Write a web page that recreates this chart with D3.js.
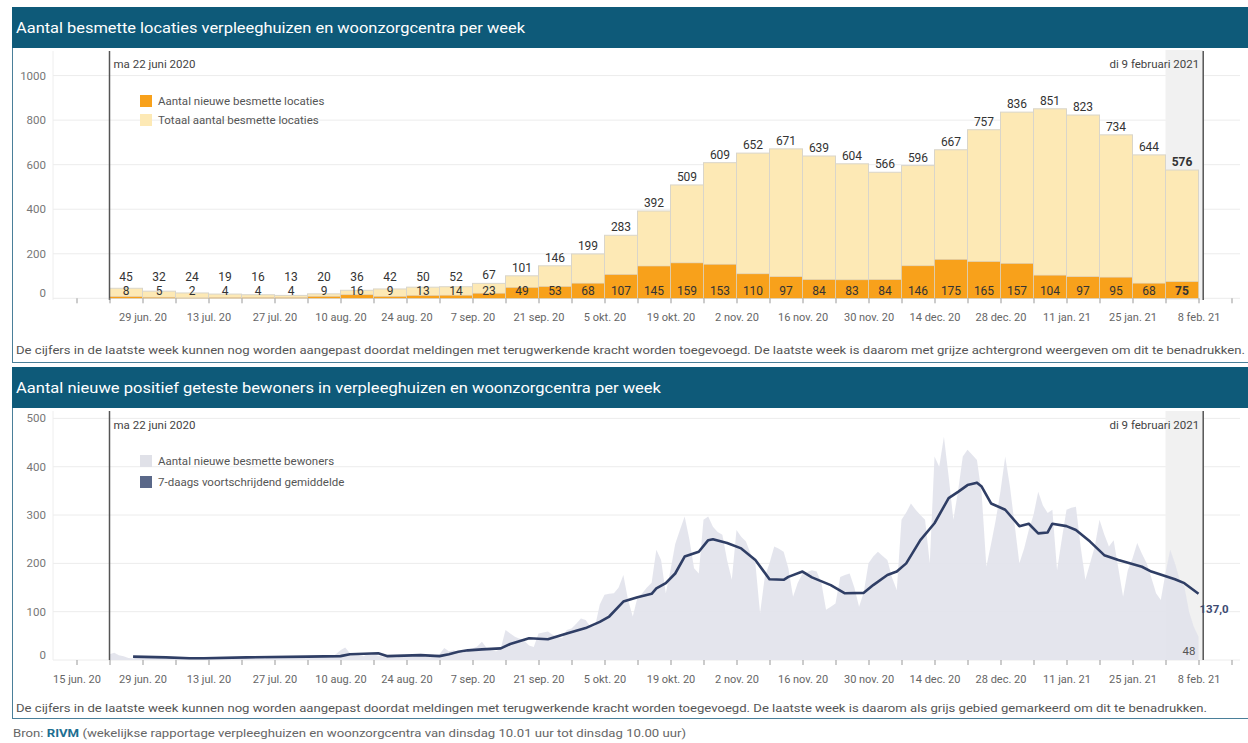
<!DOCTYPE html>
<html><head><meta charset="utf-8">
<script src="https://cdn.jsdelivr.net/npm/d3@7"></script>
<style>
body{margin:0;background:#fff}
svg{display:block}
text{font-family:Roboto,"Noto Sans",sans-serif}
</style>
</head><body>
<svg id="c" width="1248" height="743"></svg>
<script>
// ---------- data ----------
const weeks = ["2020-06-22","2020-06-29","2020-07-06","2020-07-13","2020-07-20","2020-07-27","2020-08-03","2020-08-10","2020-08-17","2020-08-24","2020-08-31","2020-09-07","2020-09-14","2020-09-21","2020-09-28","2020-10-05","2020-10-12","2020-10-19","2020-10-26","2020-11-02","2020-11-09","2020-11-16","2020-11-23","2020-11-30","2020-12-07","2020-12-14","2020-12-21","2020-12-28","2021-01-04","2021-01-11","2021-01-18","2021-01-25","2021-02-01"];
const totalLocations = [45,32,24,19,16,13,20,36,42,50,52,67,101,146,199,283,392,509,609,652,671,639,604,566,596,667,757,836,851,823,734,644,576];
const newLocations = [8,5,2,4,4,4,9,16,9,13,14,23,49,53,68,107,145,159,153,110,97,84,83,84,146,175,165,157,104,97,95,68,75];
const topYTicks = [0,200,400,600,800,1000];
const bottomYTicks = [0,100,200,300,400,500];
const axisTickDates = ["2020-06-15","2020-06-29","2020-07-13","2020-07-27","2020-08-10","2020-08-24","2020-09-07","2020-09-21","2020-10-05","2020-10-19","2020-11-02","2020-11-16","2020-11-30","2020-12-14","2020-12-28","2021-01-11","2021-01-25","2021-02-08"];
const axisTickLabels = ["15 jun. 20","29 jun. 20","13 jul. 20","27 jul. 20","10 aug. 20","24 aug. 20","7 sep. 20","21 sep. 20","5 okt. 20","19 okt. 20","2 nov. 20","16 nov. 20","30 nov. 20","14 dec. 20","28 dec. 20","11 jan. 21","25 jan. 21","8 feb. 21"];
const startDate = "2020-06-22";
const reportDate = "2021-02-09";
const dailyResidents = [
12,15,10,8,4,3,6, 5,7,4,6,3,2,5, 3,4,2,5,3,2,4, 4,6,3,5,4,2,6,
5,7,4,6,5,3,7, 6,8,5,7,6,4,8, 7,9,6,10,8,5,12, 20,26,14,12,10,8,15,
12,9,7,8,6,5,9, 8,10,7,9,8,6,10, 12,25,18,20,16,14,22, 24,28,38,25,20,18,24,
62,55,48,44,40,30,27, 55,57,59,52,48,45,62, 65,75,86,83,69,70,115, 135,137,138,150,176,124,90,
130,138,150,160,228,207,138, 186,240,269,297,250,190,179, 290,297,276,265,259,207,166, 269,255,245,220,200,97,172,
200,235,230,224,190,131,160, 179,182,186,183,160,104,110, 117,172,176,179,150,110,140, 200,214,224,215,207,170,145,
290,305,324,311,300,290,200, 421,400,462,380,290,350,421, 435,425,414,345,193,240,290, 350,421,359,280,200,230,269,
300,348,320,304,311,186,250, 311,315,317,235,166,200,235, 290,260,235,248,190,131,186, 210,242,220,200,170,138,124,
180,228,200,166,152,100,69,48];
const avgDayOffset = [5,12,17,20,29,42,49,51,57,59,66,70,72,74,76,79,83,85,89,93,97,101,104,106,109,112,115,116,118,120,122,125,127,128,131,134,137,140,143,144,147,149,153,156,160,162,165,167,169,172,175,178,180,182,184,185,187,190,193,195,197,199,200,203,205,208,211,214,219,221,226,228,231];
const avgResidents = [7,5.5,3.5,3.5,5.5,7,8,12,14,8,10,8,12,17,20,22,24,33,45,43,55,66,79,90,121,130,137,148,159,179,214,224,248,250,242,231,207,167,166,172,183,171,155,138,139,155,176,183,200,248,283,335,348,362,367,359,324,311,277,282,262,264,282,277,269,245,217,207,193,183,167,159,137];

// ---------- setup ----------
const parse = d3.timeParse("%Y-%m-%d");
const svg = d3.select("#c");
const C = {head:"#0e5a79", border:"#4a7f99", orange:"#f8a11b", yellow:"#fde9b5", barStroke:"#d9d5ca",
  grid:"#ececec", shade:"#f1f1f1", area:"#e2e3eb", line:"#2f3e65", text:"#555", light:"#777"};

const x = d3.scaleTime().domain([parse(startDate), parse("2021-02-08")]).range([109.5, 1198.5]);
const yTop = d3.scaleLinear().domain([0,1000]).range([298.3, 75.6]);
const yBot = d3.scaleLinear().domain([0,500]).range([660, 418.4]);
const mondays = d3.timeMonday.range(parse("2020-06-15"), parse("2021-02-16"));
const lastWeek = parse(weeks[weeks.length-1]);
const rep = parse(reportDate);
const st = parse(startDate);

// ---------- panels ----------
function panel(y0, y1, hy1, title, tlen){
  svg.append("rect").attr("x",12.5).attr("y",y0+0.5).attr("width",1240).attr("height",y1-y0)
    .attr("fill","none").attr("stroke",C.border).attr("stroke-width",1);
  svg.append("rect").attr("x",12).attr("y",y0).attr("width",1240).attr("height",hy1-y0).attr("fill",C.head);
  svg.append("text").attr("x",16).attr("y",(y0+hy1)/2).attr("dy","0.35em").attr("fill","#fff")
    .attr("font-size",15).attr("textLength",tlen).attr("lengthAdjust","spacingAndGlyphs").text(title);
}
panel(7, 362, 48, "Aantal besmette locaties verpleeghuizen en woonzorgcentra per week", 509);
panel(367, 718, 408, "Aantal nieuwe positief geteste bewoners in verpleeghuizen en woonzorgcentra per week", 645);

function grid(g, scale, ticks){
  ticks.forEach(t=>{
    g.append("line").attr("x1",53).attr("x2",1240).attr("y1",scale(t)).attr("y2",scale(t))
      .attr("stroke",C.grid).attr("stroke-width",1);
    g.append("text").attr("x",46).attr("y",scale(t) - (t===0?5:0)).attr("dy","0.35em").attr("text-anchor","end")
      .attr("font-size",11.5).attr("fill",C.light).text(t);
  });
}
function xAxis(yPos, skipFirst){
  const lab = new Map(axisTickDates.map((d,i)=>[+parse(d), axisTickLabels[i]]));
  if(skipFirst) lab.delete(+parse(axisTickDates[0]));
  const ax = d3.axisBottom(x).tickValues(mondays).tickSize(5).tickPadding(10)
    .tickFormat(d=>lab.get(+d)||"");
  const g = svg.append("g").attr("transform",`translate(0,${yPos})`).call(ax);
  g.select(".domain").remove();
  g.selectAll(".tick line").attr("stroke","#999");
  g.selectAll(".tick text").attr("fill","#666").attr("font-size",11).attr("font-family","Roboto,'Noto Sans',sans-serif");
}
function markers(yA, yB){
  svg.append("rect").attr("x",x(lastWeek)).attr("y",yA).attr("width",x(rep)-x(lastWeek)).attr("height",yB-yA).attr("fill",C.shade);
}
function vlines(yA, yB, yText){
  [st, rep].forEach(d=>svg.append("line").attr("x1",x(d)).attr("x2",x(d)).attr("y1",yA).attr("y2",yB)
    .attr("stroke","#555").attr("stroke-width",1.5));
  svg.append("line").attr("x1",53).attr("x2",53).attr("y1",yA).attr("y2",yB).attr("stroke","#eee");
  svg.append("text").attr("x",x(st)+4).attr("y",yText).attr("dy","0.35em").attr("font-size",11.5).attr("fill","#444").text("ma 22 juni 2020");
  svg.append("text").attr("x",x(rep)-4).attr("y",yText).attr("dy","0.35em").attr("text-anchor","end").attr("font-size",11.5).attr("fill","#444").text("di 9 februari 2021");
}

// ---------- top chart ----------
const gT = svg.append("g");
grid(gT, yTop, topYTicks);
markers(50, 300);
const bw = d => x(d3.timeDay.offset(parse(d),7)) - x(parse(d));
const bars = svg.append("g");
weeks.forEach((w,i)=>{
  const x0 = x(parse(w)), wd = bw(w);
  bars.append("rect").attr("x",x0).attr("width",wd).attr("y",yTop(totalLocations[i])).attr("height",yTop(0)-yTop(totalLocations[i]))
    .attr("fill",C.yellow).attr("stroke",C.barStroke).attr("stroke-width",1);
  bars.append("rect").attr("x",x0).attr("width",wd).attr("y",yTop(newLocations[i])).attr("height",yTop(0)-yTop(newLocations[i]))
    .attr("fill",C.orange).attr("stroke",C.barStroke).attr("stroke-width",0.6);
});
weeks.forEach((w,i)=>{
  const cx = x(parse(w)) + bw(w)/2, last = i===weeks.length-1;
  bars.append("text").attr("x",cx).attr("y",Math.min(yTop(totalLocations[i])-4, yTop(0)-17)).attr("text-anchor","middle")
    .attr("font-size",12).attr("fill","#333").attr("font-weight",last?"bold":null).text(totalLocations[i]);
  bars.append("text").attr("x",cx).attr("y",yTop(0)-8).attr("dy","0.35em").attr("text-anchor","middle")
    .attr("font-size",12).attr("fill","#333").attr("font-weight",last?"bold":null).text(newLocations[i]);
});
vlines(51, 300, 64);
xAxis(yTop(0), true);
// legend
[[C.orange,"Aantal nieuwe besmette locaties",95],[C.yellow,"Totaal aantal besmette locaties",114]].forEach(([c,t,yy])=>{
  svg.append("rect").attr("x",140).attr("y",yy).attr("width",12).attr("height",12).attr("fill",c);
  svg.append("text").attr("x",158).attr("y",yy+6).attr("dy","0.35em").attr("font-size",11.5).attr("fill",C.text).text(t);
});
svg.append("text").attr("x",16).attr("y",350).attr("dy","0.35em").attr("font-size",11).attr("fill",C.text)
  .attr("textLength",1229).attr("lengthAdjust","spacingAndGlyphs")
  .text("De cijfers in de laatste week kunnen nog worden aangepast doordat meldingen met terugwerkende kracht worden toegevoegd. De laatste week is daarom met grijze achtergrond weergeven om dit te benadrukken.");

// ---------- bottom chart ----------
const gB = svg.append("g");
grid(gB, yBot, bottomYTicks);
markers(411, 660);
const daily = dailyResidents.map((v,i)=>({d:d3.timeDay.offset(st,i), v}));
svg.append("path").datum(daily).attr("fill",C.area).attr("opacity",0.92)
  .attr("d", d3.area().x(p=>x(p.d)).y0(yBot(0)).y1(p=>yBot(p.v)));
const avg = avgDayOffset.map((o,i)=>({d:d3.timeDay.offset(st,o), v:avgResidents[i]}));
svg.append("path").datum(avg).attr("fill","none").attr("stroke",C.line).attr("stroke-width",2.6)
  .attr("stroke-linejoin","round").attr("d", d3.line().x(p=>x(p.d)).y(p=>yBot(p.v)));
vlines(411, 660, 425);
xAxis(yBot(0), false);
const lastAvg = avg[avg.length-1], lastDaily = daily[daily.length-1];
svg.append("text").attr("x",x(lastAvg.d)+1).attr("y",yBot(lastAvg.v)+15).attr("dy","0.35em").attr("font-size",11.5)
  .attr("font-weight","bold").attr("fill","#3d4b72").text(d3.format(".1f")(lastAvg.v).replace(".",","));
svg.append("text").attr("x",x(lastDaily.d)-3).attr("y",yBot(0)-9).attr("dy","0.35em").attr("text-anchor","end")
  .attr("font-size",11.5).attr("fill",C.text).text(lastDaily.v);
[["#e0e1e8","Aantal nieuwe besmette bewoners",455],["#5a6889","7-daags voortschrijdend gemiddelde",476]].forEach(([c,t,yy])=>{
  svg.append("rect").attr("x",140).attr("y",yy).attr("width",12).attr("height",12).attr("fill",c);
  svg.append("text").attr("x",158).attr("y",yy+6).attr("dy","0.35em").attr("font-size",11.5).attr("fill",C.text).text(t);
});
svg.append("text").attr("x",16).attr("y",708).attr("dy","0.35em").attr("font-size",11).attr("fill",C.text)
  .attr("textLength",1191).attr("lengthAdjust","spacingAndGlyphs")
  .text("De cijfers in de laatste week kunnen nog worden aangepast doordat meldingen met terugwerkende kracht worden toegevoegd. De laatste week is daarom als grijs gebied gemarkeerd om dit te benadrukken.");

// source
const src = svg.append("text").attr("x",13).attr("y",733).attr("dy","0.35em").attr("font-size",11).attr("fill","#666")
  .attr("textLength",673).attr("lengthAdjust","spacingAndGlyphs");
src.append("tspan").text("Bron: ");
src.append("tspan").attr("fill","#1d6f92").attr("font-weight","bold").text("RIVM");
src.append("tspan").text(" (wekelijkse rapportage verpleeghuizen en woonzorgcentra van dinsdag 10.01 uur tot dinsdag 10.00 uur)");
</script>
</body></html>
